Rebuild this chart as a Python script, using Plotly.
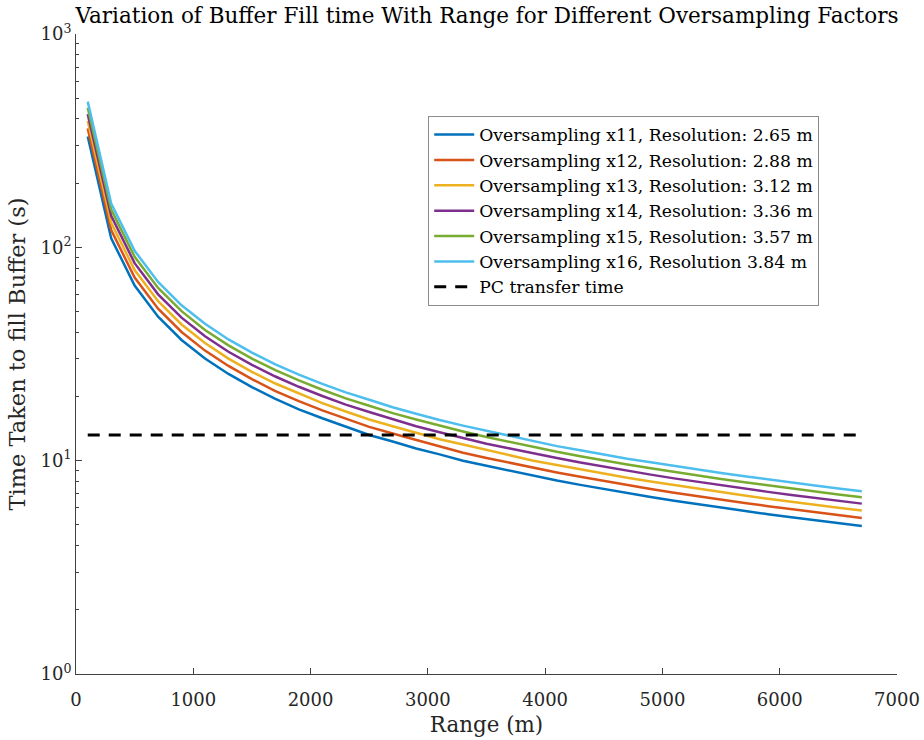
import plotly.graph_objects as go

range_m = [100, 300, 500, 700, 900, 1100, 1300, 1500, 1700, 1900, 2100, 2300,
           2500, 2700, 2900, 3100, 3300, 3500, 3700, 3900, 4100, 4300, 4500,
           4700, 4900, 5100, 5300, 5500, 5700, 5900, 6100, 6300, 6500, 6700]

os11 = [331, 110.3, 66.2, 47.3, 36.8, 30.1, 25.5, 22.1, 19.5, 17.4, 15.8, 14.4,
        13.2, 12.3, 11.4, 10.7, 10.0, 9.46, 8.95, 8.49, 8.07, 7.70, 7.36,
        7.04, 6.76, 6.49, 6.25, 6.02, 5.81, 5.61, 5.43, 5.25, 5.09, 4.94]
os12 = [361, 120.4, 72.2, 51.6, 40.1, 32.8, 27.8, 24.1, 21.2, 19.0, 17.2, 15.7,
        14.4, 13.4, 12.5, 11.6, 10.9, 10.3, 9.76, 9.26, 8.81, 8.40, 8.02,
        7.68, 7.37, 7.08, 6.81, 6.57, 6.34, 6.12, 5.92, 5.73, 5.56, 5.39]
os13 = [391, 130.4, 78.2, 55.9, 43.5, 35.6, 30.1, 26.1, 23.0, 20.6, 18.6, 17.0,
        15.6, 14.5, 13.5, 12.6, 11.9, 11.2, 10.6, 10.0, 9.54, 9.10, 8.69,
        8.32, 7.98, 7.67, 7.38, 7.11, 6.86, 6.63, 6.41, 6.21, 6.02, 5.84]
os14 = [421, 140.4, 84.3, 60.2, 46.8, 38.3, 32.4, 28.1, 24.8, 22.2, 20.1, 18.3,
        16.9, 15.6, 14.5, 13.6, 12.8, 12.0, 11.4, 10.8, 10.3, 9.80, 9.36,
        8.96, 8.60, 8.26, 7.95, 7.66, 7.39, 7.14, 6.91, 6.69, 6.48, 6.29]
os15 = [451, 150.5, 90.3, 64.5, 50.2, 41.0, 34.7, 30.1, 26.6, 23.8, 21.5, 19.6,
        18.1, 16.7, 15.6, 14.6, 13.7, 12.9, 12.2, 11.6, 11.0, 10.5, 10.0,
        9.60, 9.21, 8.85, 8.52, 8.21, 7.92, 7.65, 7.40, 7.17, 6.94, 6.74]
os16 = [482, 160.5, 96.3, 68.8, 53.5, 43.8, 37.0, 32.1, 28.3, 25.3, 22.9, 20.9,
        19.3, 17.8, 16.6, 15.5, 14.6, 13.8, 13.0, 12.3, 11.7, 11.2, 10.7,
        10.2, 9.83, 9.44, 9.08, 8.75, 8.45, 8.16, 7.89, 7.64, 7.41, 7.19]

pc_x = [100, 6700]
pc_y = [13.2, 13.2]

series_names = [
    "Oversampling x11, Resolution: 2.65 m",
    "Oversampling x12, Resolution: 2.88 m",
    "Oversampling x13, Resolution: 3.12 m",
    "Oversampling x14, Resolution: 3.36 m",
    "Oversampling x15, Resolution: 3.57 m",
    "Oversampling x16, Resolution 3.84 m",
]
series_values = [os11, os12, os13, os14, os15, os16]
colors = ["#0072BD", "#D95319", "#EDB120", "#7E2F8E", "#77AC30", "#4DBEEE"]

x_ticks = [0, 1000, 2000, 3000, 4000, 5000, 6000, 7000]
y_ticks = [1, 10, 100, 1000]
y_ticktext = ["10<sup>0</sup>", "10<sup>1</sup>", "10<sup>2</sup>", "10<sup>3</sup>"]
y_minor = [m * d for d in (1, 10, 100) for m in range(2, 10)]

FONT = "DejaVu Serif"
AX = "#404040"
TXT = "#262626"

fig = go.Figure()
for name, vals, c in zip(series_names, series_values, colors):
    fig.add_trace(go.Scatter(x=range_m, y=vals, mode="lines", name=name,
                             line=dict(color=c, width=2.5)))
fig.add_trace(go.Scatter(x=pc_x, y=pc_y, mode="lines", name="PC transfer time",
                         line=dict(color="black", width=3, dash="12px,9px")))

fig.update_layout(
    width=924, height=740,
    paper_bgcolor="white", plot_bgcolor="white",
    margin=dict(l=76, r=27, t=34, b=66),
    font=dict(family=FONT, size=17, color=TXT),
    title=dict(text="Variation of Buffer Fill time With Range for Different Oversampling Factors",
               x=0.527, xanchor="center", y=0.979, yanchor="middle",
               font=dict(family=FONT, size=21.5, color="black")),
    legend=dict(x=0.429, y=0.872, xanchor="left", yanchor="top",
                bgcolor="white", bordercolor="#8c8c8c", borderwidth=1,
                font=dict(family=FONT, size=17.2, color="black"),
                tracegroupgap=0, itemwidth=40),
    showlegend=True,
)
fig.update_xaxes(range=[0, 7000], tickvals=x_ticks, ticks="inside", ticklen=6,
                 tickcolor=AX, showline=True, linecolor=AX, linewidth=1,
                 showgrid=False, zeroline=False, mirror=False, automargin=False,
                 ticklabelstandoff=9,
                 title=dict(text="Range (m)", font=dict(family=FONT, size=21.4, color=TXT), standoff=8),
                 tickfont=dict(family=FONT, size=18, color=TXT))
fig.update_yaxes(type="log", range=[0, 3], tickvals=y_ticks, ticktext=y_ticktext,
                 ticks="inside", ticklen=6, tickcolor=AX,
                 minor=dict(tickvals=y_minor, ticks="inside", ticklen=3, tickcolor=AX, showgrid=False),
                 showline=True, linecolor=AX, linewidth=1, showgrid=False,
                 zeroline=False, mirror=False, automargin=False,
                 title=dict(text="Time Taken to fill Buffer (s)", font=dict(family=FONT, size=22.5, color=TXT), standoff=8),
                 tickfont=dict(family=FONT, size=18, color=TXT))

fig.write_html("out.html", config={"displayModeBar": False},
               post_script="document.body.style.margin='0';")
